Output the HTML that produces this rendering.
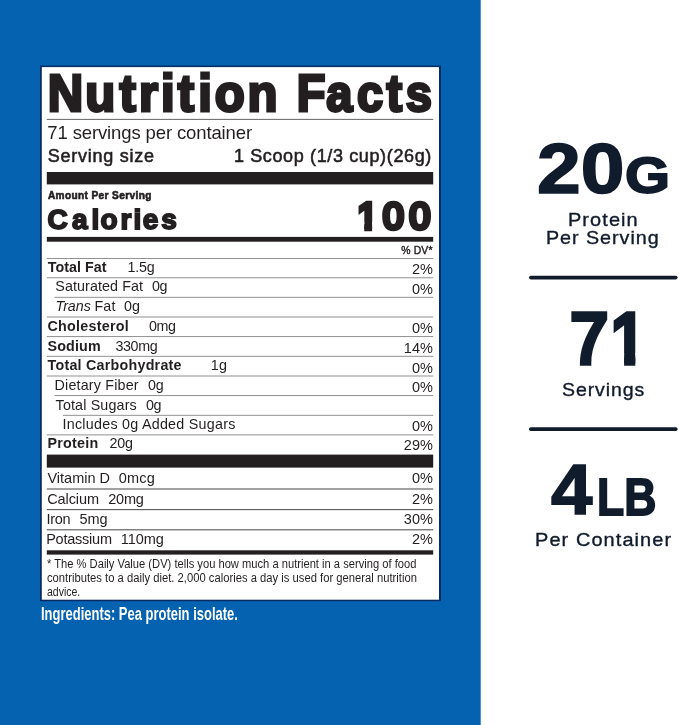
<!DOCTYPE html>
<html lang="en"><head><meta charset="utf-8"><title>Nutrition Facts</title>
<style>
html,body{margin:0;padding:0;}
body{width:679px;height:725px;position:relative;overflow:hidden;background:#fff;font-family:"Liberation Sans",Arial,Helvetica,sans-serif;}
.bg{position:absolute;left:0;top:0;}
.t{position:absolute;white-space:pre;line-height:0;transform-origin:0 0;}
.r{position:absolute;}
</style></head><body>
<svg class="bg" width="679" height="725" viewBox="0 0 679 725">
<rect x="0.00" y="0.00" width="480.70" height="725.00" fill="#0462b0" />
<rect x="40.00" y="65.60" width="400.90" height="535.60" fill="#082b63" />
<rect x="41.80" y="67.10" width="397.20" height="532.60" fill="#ffffff" />
<rect x="46.80" y="118.90" width="386.40" height="0.90" fill="#555" />
<rect x="46.80" y="172.00" width="386.40" height="12.40" fill="#231f20" />
<rect x="46.80" y="236.90" width="386.40" height="4.80" fill="#231f20" />
<rect x="46.80" y="258.05" width="386.40" height="0.90" fill="#858585" />
<rect x="46.80" y="277.35" width="386.40" height="0.90" fill="#858585" />
<rect x="54.50" y="296.85" width="378.70" height="0.90" fill="#858585" />
<rect x="46.80" y="316.55" width="386.40" height="0.90" fill="#858585" />
<rect x="46.80" y="336.15" width="386.40" height="0.90" fill="#858585" />
<rect x="46.80" y="355.85" width="386.40" height="0.90" fill="#858585" />
<rect x="46.80" y="375.55" width="386.40" height="0.90" fill="#858585" />
<rect x="54.50" y="395.15" width="378.70" height="0.90" fill="#858585" />
<rect x="62.80" y="414.85" width="370.40" height="0.90" fill="#858585" />
<rect x="46.80" y="434.45" width="386.40" height="0.90" fill="#858585" />
<rect x="46.80" y="454.60" width="386.40" height="13.00" fill="#231f20" />
<rect x="46.80" y="488.45" width="386.40" height="1.10" fill="#555" />
<rect x="46.80" y="509.05" width="386.40" height="1.10" fill="#555" />
<rect x="46.80" y="529.25" width="386.40" height="1.10" fill="#555" />
<rect x="46.80" y="550.30" width="386.40" height="4.30" fill="#231f20" />
<rect x="529.00" y="275.70" width="148.60" height="3.70" fill="#101b2b" rx="1.8"/>
<rect x="529.00" y="427.30" width="148.60" height="3.80" fill="#101b2b" rx="1.8"/>
<defs><clipPath id="cp2"><path clip-rule="evenodd" d="M0 0H679V725H0ZM356.19 222.02H364.21V232.40H356.19ZM372.10 222.02H379.83V232.40H372.10Z"/></clipPath><clipPath id="cp4"><path clip-rule="evenodd" d="M0 0H679V725H0ZM610.79 353.30H624.11V367.10H610.79ZM635.30 353.30H648.10V367.10H635.30Z"/></clipPath></defs>
<g font-family="Liberation Sans, Arial, Helvetica, sans-serif">
<text transform="scale(0.9500,1)" x="50.29 89.84 125.71 146.29 169.47 187.13 208.63 225.95 260.53" y="111.50" font-size="51.7" font-weight="700" fill="#231f20" stroke="#231f20" stroke-width="3.0" stroke-linejoin="miter">Nutrition</text>
<text transform="scale(1.0000,1)" x="47.40 71.90 91.55 100.60 120.45 133.50 142.80 161.35" y="229.40" font-size="28.0" font-weight="700" fill="#231f20" stroke="#231f20" stroke-width="1.8" stroke-linejoin="miter">Calories</text>
<g clip-path="url(#cp2)"><text transform="scale(1.0000,1)" x="357.16 383.00 409.60" y="228.60" font-size="37.2" font-weight="400" fill="#231f20" stroke="#231f20" stroke-width="4.6" stroke-linejoin="miter">100</text></g>
<text transform="scale(0.9083,1)" x="326.61 359.10 393.07 425.44 446.80" y="111.50" font-size="51.7" font-weight="700" fill="#231f20" stroke="#231f20" stroke-width="3.0" stroke-linejoin="miter">Facts</text>
<g clip-path="url(#cp4)"><text transform="scale(0.9500,1)" x="600.55 641.86" y="362.85" font-size="71" font-weight="400" fill="#101b2b" stroke="#101b2b" stroke-width="5.5" stroke-linejoin="miter">71</text></g>
</g>
</svg>
<span class="t" style="font-size:18.5px;font-weight:400;color:#231f20;top:133.29px;left:47.30px;letter-spacing:-0.124px;">71 servings per container</span>
<span class="t" style="font-size:18px;font-weight:400;color:#231f20;-webkit-text-stroke:0.55px #231f20;top:155.59px;left:47.77px;letter-spacing:0.738px;">Serving size</span>
<span class="t" style="font-size:18px;font-weight:400;color:#231f20;-webkit-text-stroke:0.55px #231f20;top:155.79px;left:233.88px;letter-spacing:0.635px;">1 Scoop (1/3 cup)(26g)</span>
<span class="t" style="font-size:10.1px;font-weight:700;color:#231f20;-webkit-text-stroke:0.6px #231f20;top:196.10px;left:47.90px;letter-spacing:0.379px;">Amount Per Serving</span>
<span class="t" style="font-size:10.4px;font-weight:400;color:#231f20;-webkit-text-stroke:0.4px #231f20;top:250.90px;left:401.20px;letter-spacing:0.160px;">% DV*</span>
<span class="t" style="font-size:14.3px;font-weight:700;color:#231f20;top:266.85px;left:47.80px;letter-spacing:0.019px;">Total Fat</span>
<span class="t" style="font-size:14.3px;font-weight:400;color:#231f20;top:266.85px;left:127.40px;letter-spacing:-0.192px;">1.5g</span>
<span class="t" style="font-size:14.3px;font-weight:400;color:#231f20;top:286.45px;left:55.30px;letter-spacing:0.087px;">Saturated Fat</span>
<span class="t" style="font-size:14.3px;font-weight:400;color:#231f20;top:286.45px;left:151.90px;letter-spacing:-0.350px;">0g</span>
<span class="t" style="font-size:14.3px;font-weight:400;color:#231f20;font-style:italic;top:306.35px;left:55.50px;letter-spacing:-0.034px;">Trans</span>
<span class="t" style="font-size:14.3px;font-weight:400;color:#231f20;top:306.35px;left:94.40px;letter-spacing:0.158px;">Fat</span>
<span class="t" style="font-size:14.3px;font-weight:400;color:#231f20;top:306.35px;left:124.10px;letter-spacing:0.049px;">0g</span>
<span class="t" style="font-size:14.3px;font-weight:700;color:#231f20;top:325.85px;left:47.50px;letter-spacing:0.253px;">Cholesterol</span>
<span class="t" style="font-size:14.3px;font-weight:400;color:#231f20;top:325.85px;left:148.90px;letter-spacing:-0.350px;">0mg</span>
<span class="t" style="font-size:14.3px;font-weight:700;color:#231f20;top:345.75px;left:47.50px;letter-spacing:0.159px;">Sodium</span>
<span class="t" style="font-size:14.3px;font-weight:400;color:#231f20;top:345.75px;left:115.40px;letter-spacing:-0.341px;">330mg</span>
<span class="t" style="font-size:14.3px;font-weight:700;color:#231f20;top:365.45px;left:47.50px;letter-spacing:0.238px;">Total Carbohydrate</span>
<span class="t" style="font-size:14.3px;font-weight:400;color:#231f20;top:365.45px;left:210.70px;letter-spacing:0.349px;">1g</span>
<span class="t" style="font-size:14.3px;font-weight:400;color:#231f20;top:384.95px;left:54.60px;letter-spacing:0.178px;">Dietary Fiber</span>
<span class="t" style="font-size:14.3px;font-weight:400;color:#231f20;top:384.95px;left:147.90px;letter-spacing:-0.051px;">0g</span>
<span class="t" style="font-size:14.3px;font-weight:400;color:#231f20;top:404.65px;left:55.60px;letter-spacing:0.153px;">Total Sugars</span>
<span class="t" style="font-size:14.3px;font-weight:400;color:#231f20;top:404.65px;left:146.00px;letter-spacing:-0.350px;">0g</span>
<span class="t" style="font-size:14.3px;font-weight:400;color:#231f20;top:424.25px;left:62.50px;letter-spacing:0.258px;">Includes 0g Added Sugars</span>
<span class="t" style="font-size:14.3px;font-weight:700;color:#231f20;top:443.35px;left:47.60px;letter-spacing:0.214px;">Protein</span>
<span class="t" style="font-size:14.3px;font-weight:400;color:#231f20;top:443.35px;left:109.60px;letter-spacing:-0.201px;">20g</span>
<span class="t" style="font-size:14.5px;font-weight:400;color:#231f20;top:268.98px;left:411.94px;">2%</span>
<span class="t" style="font-size:14.5px;font-weight:400;color:#231f20;top:288.58px;left:411.94px;">0%</span>
<span class="t" style="font-size:14.5px;font-weight:400;color:#231f20;top:327.98px;left:411.94px;">0%</span>
<span class="t" style="font-size:14.5px;font-weight:400;color:#231f20;top:347.88px;left:403.87px;">14%</span>
<span class="t" style="font-size:14.5px;font-weight:400;color:#231f20;top:367.58px;left:411.94px;">0%</span>
<span class="t" style="font-size:14.5px;font-weight:400;color:#231f20;top:387.08px;left:411.94px;">0%</span>
<span class="t" style="font-size:14.5px;font-weight:400;color:#231f20;top:426.38px;left:411.94px;">0%</span>
<span class="t" style="font-size:14.5px;font-weight:400;color:#231f20;top:445.48px;left:403.87px;">29%</span>
<span class="t" style="font-size:14.5px;font-weight:400;color:#231f20;top:478.48px;left:47.40px;letter-spacing:0.010px;">Vitamin D</span>
<span class="t" style="font-size:14.5px;font-weight:400;color:#231f20;top:478.48px;left:118.80px;letter-spacing:0.202px;">0mcg</span>
<span class="t" style="font-size:14.5px;font-weight:400;color:#231f20;top:478.48px;left:411.94px;">0%</span>
<span class="t" style="font-size:14.5px;font-weight:400;color:#231f20;top:498.78px;left:47.20px;letter-spacing:-0.099px;">Calcium</span>
<span class="t" style="font-size:14.5px;font-weight:400;color:#231f20;top:498.78px;left:108.30px;letter-spacing:-0.269px;">20mg</span>
<span class="t" style="font-size:14.5px;font-weight:400;color:#231f20;top:498.78px;left:411.94px;">2%</span>
<span class="t" style="font-size:14.5px;font-weight:400;color:#231f20;top:519.18px;left:46.60px;letter-spacing:-0.307px;">Iron</span>
<span class="t" style="font-size:14.5px;font-weight:400;color:#231f20;top:519.18px;left:79.60px;letter-spacing:-0.071px;">5mg</span>
<span class="t" style="font-size:14.5px;font-weight:400;color:#231f20;top:519.18px;left:403.87px;">30%</span>
<span class="t" style="font-size:14.5px;font-weight:400;color:#231f20;top:539.38px;left:46.20px;letter-spacing:-0.239px;">Potassium</span>
<span class="t" style="font-size:14.5px;font-weight:400;color:#231f20;top:539.38px;left:120.80px;letter-spacing:-0.074px;">110mg</span>
<span class="t" style="font-size:14.5px;font-weight:400;color:#231f20;top:539.38px;left:411.94px;">2%</span>
<span class="t" style="font-size:12px;font-weight:400;color:#231f20;top:563.84px;left:46.80px;transform:scaleX(0.9303);">* The % Daily Value (DV) tells you how much a nutrient in a serving of food</span>
<span class="t" style="font-size:12px;font-weight:400;color:#231f20;top:578.04px;left:46.80px;transform:scaleX(0.9368);">contributes to a daily diet. 2,000 calories a day is used for general nutrition</span>
<span class="t" style="font-size:12px;font-weight:400;color:#231f20;top:591.64px;left:46.80px;transform:scaleX(0.8756);">advice.</span>
<span class="t" style="font-size:18px;font-weight:700;color:#ffffff;top:613.76px;left:41.28px;transform:scaleX(0.7209);">Ingredients: Pea protein isolate.</span>
<span class="t" style="font-size:70.2px;font-weight:700;color:#101b2b;-webkit-text-stroke:1.6px #101b2b;top:169.28px;left:536.96px;transform:scaleX(1.1199);">20</span>
<span class="t" style="font-size:50.6px;font-weight:700;color:#101b2b;-webkit-text-stroke:1.8px #101b2b;top:175.97px;left:625.34px;transform:scaleX(1.1440);">G</span>
<span class="t" style="font-size:18.2px;font-weight:400;color:#101b2b;-webkit-text-stroke:0.35px #101b2b;top:219.52px;left:567.80px;letter-spacing:0.991px;transform:scaleX(1.0954);">Protein</span>
<span class="t" style="font-size:18.2px;font-weight:400;color:#101b2b;-webkit-text-stroke:0.35px #101b2b;top:238.32px;left:546.11px;letter-spacing:0.885px;transform:scaleX(1.0842);">Per Serving</span>
<span class="t" style="font-size:18.2px;font-weight:400;color:#101b2b;-webkit-text-stroke:0.35px #101b2b;top:390.22px;left:562.09px;letter-spacing:0.848px;transform:scaleX(1.0734);">Servings</span>
<span class="t" style="font-size:70.2px;font-weight:700;color:#101b2b;-webkit-text-stroke:1.6px #101b2b;top:490.28px;left:551.19px;transform:scaleX(1.0606);">4</span>
<span class="t" style="font-size:51.6px;font-weight:700;color:#101b2b;-webkit-text-stroke:1.8px #101b2b;top:496.62px;left:596.79px;transform:scaleX(0.8635);">LB</span>
<span class="t" style="font-size:18.2px;font-weight:400;color:#101b2b;-webkit-text-stroke:0.35px #101b2b;top:540.42px;left:535.30px;letter-spacing:0.995px;transform:scaleX(1.0960);">Per Container</span>
</body></html>
